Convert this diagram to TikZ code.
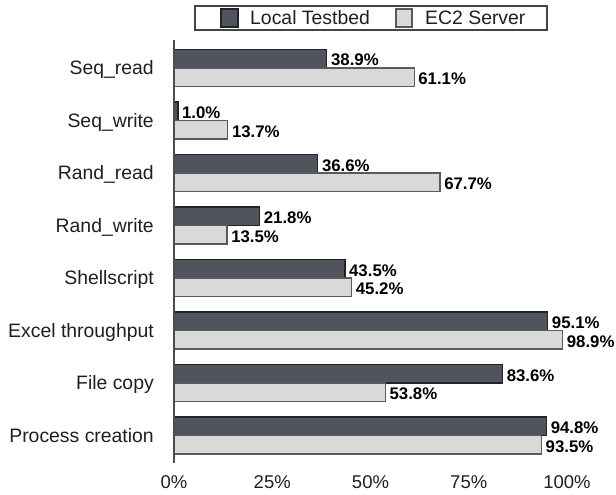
\documentclass[tikz,border=0pt]{standalone}
\usepackage{fontspec}
\setmainfont{Liberation Sans}
\definecolor{testbed}{RGB}{80,84,93}
\definecolor{ectwo}{RGB}{217,217,217}
\definecolor{edge}{RGB}{35,35,38}
\tikzset{
  localbar/.style={fill=testbed, draw=edge, line width=1.2pt},
  serverbar/.style={fill=ectwo, draw=edge!75, line width=1.2pt},
  catlabel/.style={anchor=base east, inner sep=0pt, text=black!88, font=\fontsize{19.4}{21}\selectfont},
  vallabel/.style={anchor=base west, inner sep=0pt, font=\fontsize{16.8}{18}\selectfont\bfseries},
  ticklabel/.style={anchor=base, inner sep=0pt, text=black!88, font=\fontsize{18.5}{20}\selectfont},
  keytext/.style={anchor=base west, inner sep=0pt, text=black!88, font=\fontsize{19.4}{21}\selectfont},
}
\begin{document}
\begin{tikzpicture}[x=1pt, y=-1pt]
  \useasboundingbox (0,0) rectangle (616,495);

  % Legend
  \draw[draw=edge!85, line width=1.2pt] (195,6) rectangle (547,30);
  \node[localbar, minimum width=17pt, minimum height=18pt, inner sep=0pt] (keylocal) at (229.5,18) {};
  \node[keytext] (keylocaltext) at (250,25) {Local Testbed};
  \node[serverbar, minimum width=16pt, minimum height=18pt, inner sep=0pt] (keyserver) at (404,18) {};
  \node[keytext] (keyservertext) at (425,25) {EC2 Server};

  % Bars
  \foreach \name/\a/\b [count=\i from 0] in {Seq\_read/38.9/61.1, Seq\_write/1.0/13.7,
      Rand\_read/36.6/67.7, Rand\_write/21.8/13.5, Shellscript/43.5/45.2,
      Excel throughput/95.1/98.9, File copy/83.6/53.8, Process creation/94.8/93.5} {
    \pgfmathsetmacro{\c}{68+52.5*\i}
    \draw[localbar] (174,\c-18.5) rectangle (174+\a*3.93,\c);
    \draw[serverbar] (174,\c) rectangle (174+\b*3.93,\c+18.5);
    \node[catlabel] (cat\i) at (154,\c+6.8) {\name};
    \node[vallabel] (loc\i) at (178+\a*3.93,\c-2) {\a\%};
    \node[vallabel] (srv\i) at (178+\b*3.93,\c+16.5) {\b\%};
  }

  % Axis
  \draw[draw=black!70, line width=1.5pt] (174,40) -- (174,463);
  \foreach \t [count=\k from 0] in {0,25,50,75,100} {
    \node[ticklabel] (tick\k) at (174+\t*3.93,488) {\t\%};
  }
\end{tikzpicture}
\end{document}
